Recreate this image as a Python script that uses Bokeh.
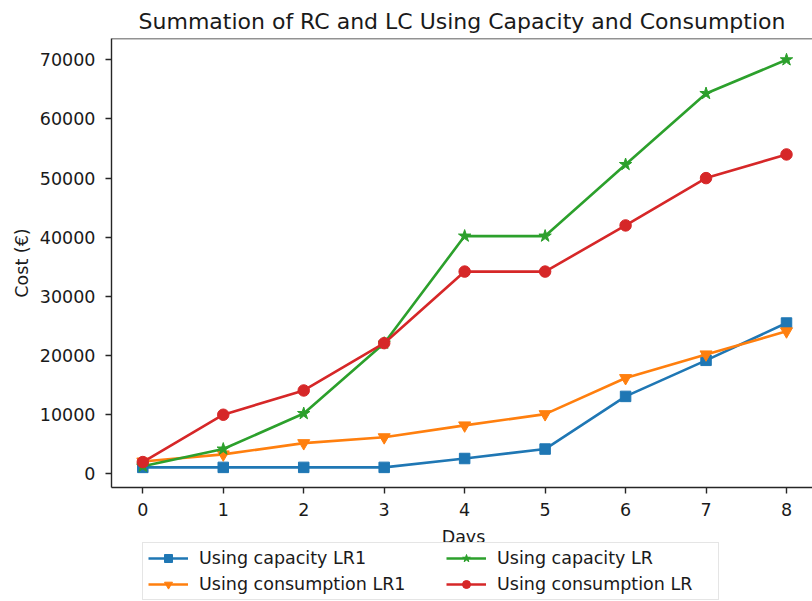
from bokeh.plotting import figure
from bokeh.layouts import column
from bokeh.models import Legend, LegendItem, Span, Range1d, FixedTicker, Label
from bokeh.embed import file_html
from bokeh.resources import INLINE

days = [0, 1, 2, 3, 4, 5, 6, 7, 8]
capacity_lr1 = [1100, 1100, 1100, 1100, 2600, 4200, 13100, 19200, 25500]
consumption_lr1 = [2100, 3300, 5200, 6200, 8200, 10100, 16200, 20200, 24100]
capacity_lr = [1300, 4200, 10200, 22100, 40200, 40200, 52300, 64300, 70000]
consumption_lr = [2000, 10000, 14100, 22100, 34200, 34200, 42000, 50000, 54000]

y_ticks = [0, 10000, 20000, 30000, 40000, 50000, 60000, 70000]
x_ticks = days

title_text = "Summation of RC and LC Using Capacity and Consumption"
x_label = "Days"
y_label = "Cost (€)"
names = ["Using capacity LR1", "Using consumption LR1", "Using capacity LR", "Using consumption LR"]
colors = ["#1f77b4", "#ff7f0e", "#2ca02c", "#d62728"]
markers = ["square", "inverted_triangle", "star", "circle"]
sizes = [10.5, 12, 13, 11.5]

FONT = "DejaVu Sans"
TXT = "#1a1a1a"
AX = "#262626"
Y_TOP = 73600
FRAME_LEFT = 111

p = figure(width=812, height=523, output_backend="svg", toolbar_location=None,
           x_range=Range1d(-0.389, 8.323), y_range=Range1d(-2300, Y_TOP),
           min_border_left=FRAME_LEFT, min_border_right=0, min_border_top=38, min_border_bottom=36)
p.title.text = title_text
p.title.text_font = FONT
p.title.text_font_size = "22px"
p.title.text_font_style = "normal"
p.title.align = "center"
p.title.text_color = TXT

p.xgrid.visible = False
p.ygrid.visible = False
p.outline_line_color = None

for ax in (p.xaxis[0], p.yaxis[0]):
    ax.axis_line_color = AX
    ax.axis_line_width = 1.4
    ax.major_tick_line_color = AX
    ax.major_tick_line_width = 1.4
    ax.major_tick_out = 6
    ax.major_tick_in = 0
    ax.minor_tick_line_color = None
    ax.major_label_text_font = FONT
    ax.major_label_text_font_size = "17.5px"
    ax.major_label_text_color = TXT
    ax.axis_label_text_font = FONT
    ax.axis_label_text_font_size = "17.5px"
    ax.axis_label_text_font_style = "normal"
    ax.axis_label_text_color = TXT

p.xaxis.ticker = FixedTicker(ticks=x_ticks)
p.yaxis.ticker = FixedTicker(ticks=y_ticks)
p.xaxis.major_label_standoff = 9
p.yaxis.major_label_standoff = 10
p.yaxis.axis_label = y_label
p.yaxis.axis_label_standoff = 5

p.add_layout(Span(location=Y_TOP, dimension="width", line_color=AX, line_width=1.4))

series = [capacity_lr1, consumption_lr1, capacity_lr, consumption_lr]
for vals, c, m, s in zip(series, colors, markers, sizes):
    p.line(days, vals, line_color=c, line_width=2.6)
    p.scatter(days, vals, marker=m, size=s, fill_color=c, line_color=c, line_width=1)

# lower strip: x-axis title and legend (its frame is aligned with the main frame)
H2 = 78
p2 = figure(width=812, height=H2, output_backend="svg", toolbar_location=None,
            x_axis_type=None, y_axis_type=None,
            x_range=Range1d(100, 101), y_range=Range1d(0, 1),
            min_border_left=FRAME_LEFT, min_border_right=0, min_border_top=0, min_border_bottom=0)
p2.xgrid.visible = False
p2.ygrid.visible = False
p2.outline_line_color = None

items = []
for vals, name, c, m, s in zip(series, names, colors, markers, sizes):
    l = p2.line(days, vals, line_color=c, line_width=2.6)
    sc = p2.scatter(days, vals, marker=m, size=s, fill_color=c, line_color=c, line_width=1)
    items.append(LegendItem(label=name, renderers=[l, sc]))

common = dict(glyph_width=40, glyph_height=20, label_height=20, label_standoff=11, spacing=6,
              padding=5, label_text_font=FONT, label_text_font_size="17.5px",
              label_text_color=TXT, margin=0)
leg_a = Legend(items=[items[0], items[1]], location=(142 - FRAME_LEFT, 1), label_width=514,
               border_line_color="#cccccc", border_line_width=1.2,
               background_fill_color="white", background_fill_alpha=1.0, **common)
leg_b = Legend(items=[items[2], items[3]], location=(446 - FRAME_LEFT, 7),
               border_line_color=None, background_fill_alpha=0.0, **common)
p2.add_layout(leg_a)
p2.add_layout(leg_b)

p2.add_layout(Label(x=463 - FRAME_LEFT, y=H2 - 13, x_units="screen", y_units="screen", text=x_label,
                    text_font=FONT, text_font_size="17.5px", text_color=TXT,
                    text_align="center", text_baseline="alphabetic"))

layout = column(p, p2, spacing=0)
open("out.html", "w").write(file_html(layout, INLINE))
